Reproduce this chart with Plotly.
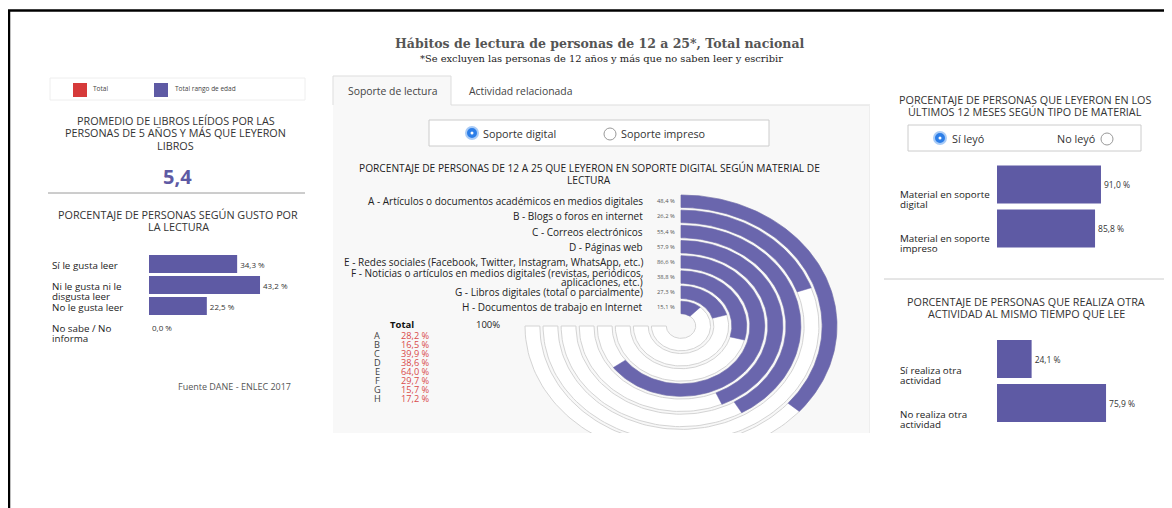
import numpy as np
import plotly.graph_objects as go

# ---------------- DATA ----------------
promedio_libros = 5.4

gusto_cats = ["Sí le gusta leer", "Ni le gusta ni le<br>disgusta leer", "No le gusta leer", "No sabe / No<br>informa"]
gusto_vals = [34.3, 43.2, 22.5, 0.0]

material_letters = ["A", "B", "C", "D", "E", "F", "G", "H"]
material_labels = [
    "A - Artículos o documentos académicos en medios digitales",
    "B - Blogs o foros en internet",
    "C - Correos electrónicos",
    "D - Páginas web",
    "E - Redes sociales (Facebook, Twitter, Instagram, WhatsApp, etc.)",
    "F - Noticias o artículos en medios digitales (revistas, periódicos,<br>aplicaciones, etc.)",
    "G - Libros digitales (total o parcialmente)",
    "H - Documentos de trabajo en Internet",
]
material_vals = [48.4, 26.2, 55.4, 57.9, 86.6, 38.8, 27.3, 15.1]
total_vals = [28.2, 16.5, 39.9, 38.6, 64.0, 29.7, 15.7, 17.2]
gauge_max = 100

tipo_cats = ["Material en soporte<br>digital", "Material en soporte<br>impreso"]
tipo_vals = [91.0, 85.8]

otra_cats = ["Sí realiza otra<br>actividad", "No realiza otra<br>actividad"]
otra_vals = [24.1, 75.9]

# ---------------- STYLE / LAYOUT HELPERS ----------------
# the page body has an 8px margin: page coordinates are shifted by it
OX, OY = 8, 8
W, H = 1164, 500
def fx(x): return (x - OX) / W
def fy(y): return 1 - (y - OY) / H

FONT = "Open Sans"
PURPLE = "#5e5aa4"
PURPLE_R = "#6a66ad"
RED = "#d63a3a"
TXT = "#333333"

def fmt(v):
    return f"{v:.1f}".replace(".", ",") + " %"

annotations = []
shapes = []

def txt(x, y, text, size=10, color=TXT, xanchor="center", yanchor="middle",
        xref="paper", yref="paper", family=FONT, align="center", yshift=0):
    annotations.append(dict(x=x, y=y, xref=xref, yref=yref, text=text, showarrow=False,
                            font=dict(size=size, color=color, family=family),
                            xanchor=xanchor, yanchor=yanchor, align=align, yshift=yshift))

def mtxt(x, y, text, pitch, first_shift=0, **kw):
    """multi-line text with controlled line pitch (one annotation per line)"""
    for k, line in enumerate(text.split("<br>")):
        txt(x, y, line, yshift=first_shift - k * pitch, **kw)

def rect(x0, y0, x1, y1, fill=None, line=None, lw=1, layer="below"):
    shapes.append(dict(type="rect", xref="paper", yref="paper", x0=fx(x0), x1=fx(x1),
                       y0=fy(y1), y1=fy(y0), fillcolor=fill or "rgba(0,0,0,0)",
                       line=dict(color=line or "rgba(0,0,0,0)", width=lw if line else 0), layer=layer))

def hline(x0, x1, y, color, lw=1):
    shapes.append(dict(type="line", xref="paper", yref="paper", x0=fx(x0), x1=fx(x1),
                       y0=fy(y), y1=fy(y), line=dict(color=color, width=lw)))

def vline(x, y0, y1, color, lw=1):
    shapes.append(dict(type="line", xref="paper", yref="paper", x0=fx(x), x1=fx(x),
                       y0=fy(y0), y1=fy(y1), line=dict(color=color, width=lw)))

def circle(cx, cy, r, fill, line, lw=1):
    shapes.append(dict(type="circle", xref="paper", yref="paper", x0=fx(cx - r), x1=fx(cx + r),
                       y0=fy(cy + r), y1=fy(cy - r), fillcolor=fill, line=dict(color=line, width=lw),
                       layer="above"))

fig = go.Figure()

# ---------------- FRAME ----------------
vline(9, 520, 10.5, "black", 2.5)
hline(8, 1180, 10.5, "black", 2.5)

# ---------------- TITLE ----------------
txt(fx(600), fy(44), "<b>Hábitos de lectura de personas de 12 a 25*, Total nacional</b>", 12.5, "#555555",
    family="DejaVu Serif")
txt(fx(601), fy(59), "*Se excluyen las personas de 12 años y más que no saben leer y escribir", 9.9, "#222222",
    family="DejaVu Serif")

# ---------------- LEFT PANEL ----------------
rect(50, 78, 305, 100, fill="white", line="#eeeeee")
rect(73, 83, 87, 97, fill=RED)
rect(154, 83, 168, 97, fill=PURPLE)
txt(fx(91), fy(88), "Total", 6.5, "#444", xanchor="left")
txt(fx(173), fy(88), "Total rango de edad", 6.5, "#444", xanchor="left")

mtxt(fx(176), fy(121), "PROMEDIO DE LIBROS LEÍDOS POR LAS<br>PERSONAS DE 5 AÑOS Y MÁS QUE LEYERON<br>LIBROS",
     12, size=10.8, color=TXT)
txt(fx(177), fy(176), "<b>" + f"{promedio_libros:.1f}".replace(".", ",") + "</b>", 20, PURPLE)
hline(48, 305, 193, "#9a9a9a", 1)
mtxt(fx(178), fy(215), "PORCENTAJE DE PERSONAS SEGÚN GUSTO POR<br>LA LECTURA", 12, size=10.8, color=TXT)

fig.add_trace(go.Bar(y=gusto_cats, x=gusto_vals, orientation="h", marker=dict(color=PURPLE, line=dict(width=0)),
                     text=[fmt(v) for v in gusto_vals], textposition="outside", cliponaxis=False,
                     textfont=dict(size=8, color=TXT, family=FONT), xaxis="x", yaxis="y",
                     hoverinfo="skip"))
for c in gusto_cats:
    mtxt(fx(50), c, c, 10, first_shift=-1.5, size=9.8, color="#222", xanchor="left", yref="y")
txt(fx(234), fy(386), "Fuente DANE - ENLEC 2017", 9, "#555")

# ---------------- CENTER PANEL ----------------
rect(333, 105, 870, 433, fill="#f8f8f8")
rect(333, 76, 451, 105, fill="#f8f8f8")
shapes.append(dict(type="path", xref="paper", yref="paper",
                   path=f"M {fx(333)} {fy(105)} L {fx(333)} {fy(76)} L {fx(451)} {fy(76)} L {fx(451)} {fy(105)}",
                   line=dict(color="#dddddd", width=1)))
hline(451, 870, 105, "#dddddd")
vline(869.5, 105, 433, "#eeeeee")
txt(fx(392), fy(91), "Soporte de lectura", 10.4, "#444")
txt(fx(520), fy(91), "Actividad relacionada", 10.4, "#444")

rect(429, 120, 769, 146, fill="white", line="#cccccc")
circle(472, 133, 6, "#2c7ee8", "#a9cbf6", 2)
circle(472, 133, 1.5, "white", "white", 0)
circle(610, 134, 6, "white", "#999999", 1)
txt(fx(481), fy(133), "Soporte digital", 10.8, "#333", xanchor="left")
txt(fx(619), fy(133), "Soporte impreso", 10.8, "#333", xanchor="left")

mtxt(fx(589), fy(168), "PORCENTAJE DE PERSONAS DE 12 A 25 QUE LEYERON EN SOPORTE DIGITAL SEGÚN MATERIAL DE<br>LECTURA",
     12, size=10.2, color="#222")

# radial bars drawn on a cartesian subplot (x,y in units of outer radius)
CX, CY, RXPX, RYPX = 681, 326, 156, 131
PITCH, THICK, SWEEP = 0.1158, 0.095, 270.0

def arc_polygon(r_out, r_in, deg, n=140):
    th = np.radians(np.linspace(0, deg, n))
    xo, yo = r_out * np.sin(th), r_out * np.cos(th)
    xi, yi = r_in * np.sin(th[::-1]), r_in * np.cos(th[::-1])
    return (np.concatenate([xo, xi, xo[:1]]), np.concatenate([yo, yi, yo[:1]]))

for i, v in enumerate(material_vals):
    ro = 1 - i * PITCH
    ri = ro - THICK
    tx, ty = arc_polygon(ro, ri, SWEEP)
    fig.add_trace(go.Scatter(x=tx, y=ty, mode="lines", fill="toself", fillcolor="white",
                             line=dict(color="#d4d4d4", width=1), xaxis="x2", yaxis="y2", hoverinfo="skip"))
for i, v in enumerate(material_vals):
    ro = 1 - i * PITCH
    ri = ro - THICK
    bx, by = arc_polygon(ro, ri, v / gauge_max * SWEEP)
    fig.add_trace(go.Scatter(x=bx, y=by, mode="lines", fill="toself", fillcolor=PURPLE_R,
                             line=dict(color=PURPLE_R, width=0.5), xaxis="x2", yaxis="y2", hoverinfo="skip"))
    yc = ro - THICK / 2
    txt(-0.028, yc, fmt(v), 5.8, "#555", xanchor="right", xref="x2", yref="y2")
    lab = material_labels[i]
    nl = lab.count("<br>")
    mtxt(-0.232, yc, lab, 9, first_shift=4.5 * nl, size=10, color="#222", xanchor="right",
         xref="x2", yref="y2")

# totals list
txt(fx(402), fy(324), "<b>Total</b>", 9.5, "#111")
txt(fx(488), fy(324), f"{gauge_max}%", 9.5, "#222")
for i, (l, v) in enumerate(zip(material_letters, total_vals)):
    yy = 335 + i * 9
    txt(fx(377), fy(yy), l, 9.2, "#444")
    txt(fx(432), fy(yy), fmt(v), 9.2, "#d84a4a", xanchor="right")

# ---------------- RIGHT PANEL ----------------
mtxt(fx(1025), fy(100), "PORCENTAJE DE PERSONAS QUE LEYERON EN LOS<br>ÚLTIMOS 12 MESES SEGÚN TIPO DE MATERIAL",
     12, size=10.8, color=TXT)
rect(908, 125, 1141, 151, fill="white", line="#cccccc")
circle(940, 138, 6, "#2c7ee8", "#a9cbf6", 2)
circle(940, 138, 1.5, "white", "white", 0)
circle(1107, 139, 6, "white", "#999999", 1)
txt(fx(950), fy(138), "Sí leyó", 10.8, "#333", xanchor="left")
txt(fx(1097), fy(138), "No leyó", 10.8, "#333", xanchor="right")

fig.add_trace(go.Bar(y=tipo_cats, x=tipo_vals, orientation="h", marker=dict(color=PURPLE, line=dict(width=0)),
                     text=[fmt(v) for v in tipo_vals], textposition="outside", cliponaxis=False,
                     textfont=dict(size=8.5, color=TXT, family=FONT), xaxis="x3", yaxis="y3",
                     hoverinfo="skip"))
for c in tipo_cats:
    mtxt(fx(898), c, c, 10, first_shift=-10.5, size=9.8, color="#222", xanchor="left", yref="y3")

hline(884, 1166, 279, "#cccccc")
mtxt(fx(1026), fy(301), "PORCENTAJE DE PERSONAS QUE REALIZA OTRA<br>ACTIVIDAD AL MISMO TIEMPO QUE LEE",
     12, size=10.8, color=TXT)
fig.add_trace(go.Bar(y=otra_cats, x=otra_vals, orientation="h", marker=dict(color=PURPLE, line=dict(width=0)),
                     text=[fmt(v) for v in otra_vals], textposition="outside", cliponaxis=False,
                     textfont=dict(size=8.5, color=TXT, family=FONT), xaxis="x4", yaxis="y4",
                     hoverinfo="skip"))
for c in otra_cats:
    mtxt(fx(898), c, c, 10, first_shift=-11, size=9.8, color="#222", xanchor="left", yref="y4")

# ---------------- AXES ----------------
hid = dict(visible=False, showgrid=False, zeroline=False, fixedrange=True)
fig.update_layout(
    width=W, height=H, margin=dict(l=0, r=0, t=0, b=0, autoexpand=False),
    paper_bgcolor="white", plot_bgcolor="rgba(0,0,0,0)", showlegend=False,
    font=dict(family=FONT, color=TXT),
    bargap=0.14,
    xaxis=dict(domain=[fx(149), fx(305)], range=[0, 60.7], anchor="y", **hid),
    yaxis=dict(domain=[fy(337.5), fy(253.5)], anchor="x", range=[len(gusto_cats) - 0.5, -0.5],
               categoryorder="array", categoryarray=gusto_cats, **hid),
    xaxis2=dict(domain=[fx(494), fx(868)], range=[(494 - CX) / RXPX, (868 - CX) / RXPX], anchor="y2", **hid),
    yaxis2=dict(domain=[fy(433), fy(188)], range=[-(433 - CY) / RYPX, (CY - 188) / RYPX], anchor="x2", **hid),
    xaxis3=dict(domain=[fx(997), fx(1150)], range=[0, 133.9], anchor="y3", **hid),
    yaxis3=dict(domain=[fy(250.5), fy(162.5)], anchor="x3", range=[len(tipo_cats) - 0.5, -0.5],
                categoryorder="array", categoryarray=tipo_cats, **hid),
    xaxis4=dict(domain=[fx(997), fx(1150)], range=[0, 106.5], anchor="y4", **hid),
    yaxis4=dict(domain=[fy(425), fy(337)], anchor="x4", range=[len(otra_cats) - 0.5, -0.5],
                categoryorder="array", categoryarray=otra_cats, **hid),
    shapes=shapes, annotations=annotations,
)
fig.write_html("out.html")
